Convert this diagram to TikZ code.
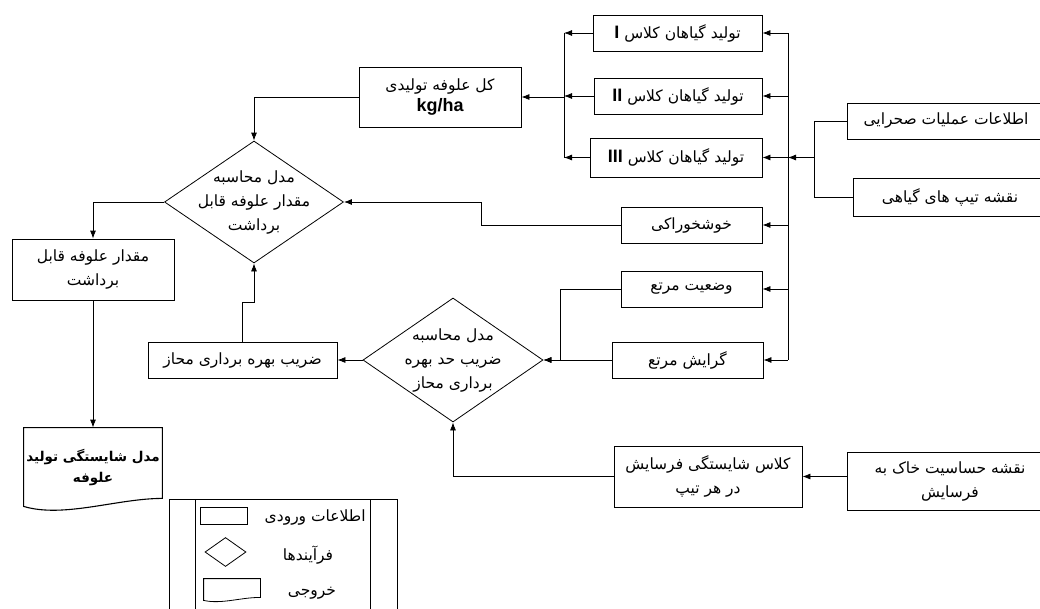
\documentclass[tikz,border=0pt]{standalone}
\usepackage{fontspec}
\usetikzlibrary{positioning,calc,shapes.geometric,arrows.meta}
\setmainfont{Liberation Sans}
\newfontfamily\fafont[Script=Arabic]{DejaVu Sans}
\TeXXeTstate=1
\newcommand\fatext[1]{{\fafont\beginR #1\endR}}
\newcommand\fasize{\fontsize{15.5}{24}\selectfont}
\newcommand\romannum[1]{\beginL{\rmfamily\bfseries\fontsize{18}{18}\selectfont #1}\endL}

\begin{document}
\begin{tikzpicture}[x=1pt,y=-1pt,line width=0.8pt]
  \path[use as bounding box,fill=white] (0,0) rectangle (1040,608);
  \clip (0,0) rectangle (1040,608);
  % input boxes
  \begin{scope}[
    every node/.style={
      draw,
      align=center,
      inner sep=1pt,
      font=\fasize,
    },
    ]
    \node[minimum width=169,minimum height=36] (cls1) at (677.5,33)
      {\fatext{تولید گیاهان کلاس \romannum{I}}};
    \node[minimum width=168,minimum height=36] (cls2) at (678,96)
      {\fatext{تولید گیاهان کلاس \romannum{II}}};
    \node[minimum width=172,minimum height=39] (cls3) at (676,157.5)
      {\fatext{تولید گیاهان کلاس \romannum{III}}};
    \node[minimum width=198,minimum height=36] (field) at (946,121)
      {\fatext{اطلاعات عملیات صحرایی}};
    \node[minimum width=194,minimum height=38] (vegmap) at (950,197)
      {\fatext{نقشه تیپ های گیاهی}};
    \node[minimum width=141,minimum height=36] (palat) at (691.5,225)
      {\fatext{خوشخوراکی}};
    \node[minimum width=141,minimum height=36] (cond) at (691.5,289)
      {\fatext{وضعیت مرتع}};
    \node[minimum width=151,minimum height=36] (trend) at (687.5,360)
      {\fatext{گرایش مرتع}};
    \node[minimum width=188,minimum height=61] (erosion) at (708,476.5)
      {\fatext{کلاس شایستگی فرسایش}\\\fatext{در هر تیپ}};
    \node[minimum width=206,minimum height=58] (soil) at (950,481)
      {\fatext{نقشه حساسیت خاک به}\\\fatext{فرسایش}};
    \node[minimum width=162,minimum height=60] (total) at (440,97)
      {\fatext{کل علوفه تولیدی}\\[-3pt]{\fontsize{18}{18}\selectfont\bfseries kg/ha}};
    \node[minimum width=162,minimum height=61] (harvest) at (93,269.5)
      {\fatext{مقدار علوفه قابل}\\\fatext{برداشت}};
    \node[minimum width=189,minimum height=36] (factor) at (242.5,360)
      {\fatext{ضریب بهره برداری محاز}};
  \end{scope}
  % processes
  \begin{scope}[every node/.style={diamond,draw,inner sep=0pt}]
    \node[minimum width=179,minimum height=122] (model1) at (254,202) {};
    \node[minimum width=180,minimum height=124] (model2) at (453,360) {};
  \end{scope}
  \begin{scope}[every node/.style={align=center,font=\fasize}]
    \node (model1-text) at (model1) {\fatext{مدل محاسبه}\\\fatext{مقدار علوفه قابل}\\\fatext{برداشت}};
    \node (model2-text) at (model2) {\fatext{مدل محاسبه}\\\fatext{ضریب حد بهره}\\\fatext{برداری محاز}};
  \end{scope}
  % output
  \node[minimum width=138,minimum height=78,inner sep=0pt,align=center,
    font=\fontsize{13.5}{21}\selectfont\bfseries] (output) at (93,467)
    {\fatext{مدل شایستگی تولید}\\\fatext{علوفه}};
  \draw[line width=1.1pt] (output.north west) -- (output.north east)
    -- ($(output.south east)+(0,-8)$)
    .. controls +(-45,0) and +(40,12) .. (output.south west) -- cycle;
  % connectors
  \coordinate (busR-top) at (788,33);
  \coordinate (busR-bot) at (788,360);
  \coordinate (busL-top) at (564,33);
  \coordinate (busL-bot) at (564,157.5);
  \coordinate (field-join) at (814,157.5);
  \begin{scope}[>={Latex[length=8pt,width=6pt]}]
    \draw (busR-top) -- (busR-bot);
    \draw (busL-top) -- (busL-bot);
    \draw (field.west) -| (field-join);
    \draw (vegmap.west) -| (field-join);
    \path[->]
    (field-join) edge (field-join -| busR-top)
    (cls1.east -| busR-top) edge (cls1.east)
    (cls2.east -| busR-top) edge (cls2.east)
    (cls3.east -| busR-top) edge (cls3.east)
    (palat.east -| busR-top) edge (palat.east)
    (cond.east -| busR-top) edge (cond.east)
    (trend.east -| busR-top) edge (trend.east)
    (cls1.west) edge (cls1.west -| busL-top)
    (cls2.west) edge (cls2.west -| busL-top)
    (cls3.west) edge (cls3.west -| busL-top)
    (total.east -| busL-top) edge (total.east)
    (harvest.south) edge (output.north)
    (model2.west) edge (model2.west -| factor.east)
    (trend.west) edge (model2.east)
    (erosion.east -| soil.west) edge (erosion.east);
    \draw[->] (total.west) -| (model1.north);
    \draw[->] (palat.west) -- ++(-139,0) |- (model1.east);
    \draw[->] (model1.west) -| (harvest.north);
    \draw[->] (factor.north) -- ++(0,-39) -| (model1.south);
    \draw[->] (cond.west) -- ++(-60.5,0) |- (model2.east);
    \draw[->] (erosion.west) -| (model2.south);
  \end{scope}
  % legend
  \draw (169,499) rectangle (397,620);
  \draw (195,499) -- (195,620);
  \draw (370,499) -- (370,620);
  \node[draw,minimum width=47,minimum height=17,inner sep=0pt] (key-input) at (223.5,515.5) {};
  \node[diamond,draw,minimum width=41,minimum height=29,inner sep=0pt] (key-proc) at (225.5,552) {};
  \node[minimum width=56,minimum height=21,inner sep=0pt] (key-out) at (232,589.5) {};
  \draw (key-out.north west) -- (key-out.north east)
    -- ($(key-out.south east)+(0,-3)$)
    .. controls +(-20,0) and +(18,4) .. (key-out.south west) -- cycle;
  \begin{scope}[every node/.style={font=\fasize,inner sep=0pt}]
    \node[anchor=east] (key-input-text) at (366,517) {\fatext{اطلاعات ورودی}};
    \node (key-proc-text) at (308,555) {\fatext{فرآیندها}};
    \node (key-out-text) at (312,593) {\fatext{خروجی}};
  \end{scope}
\end{tikzpicture}
\end{document}
